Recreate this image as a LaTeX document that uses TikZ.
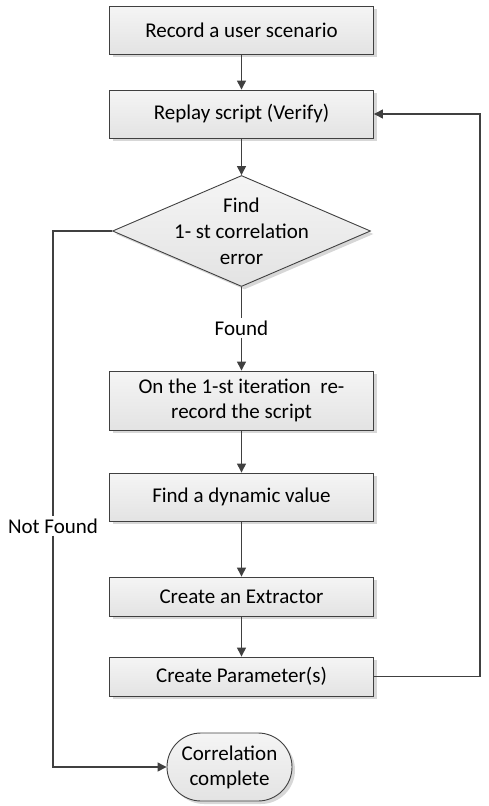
\documentclass[tikz,border=0pt]{standalone}
\usepackage{fontspec}
\setmainfont{Carlito}
\usetikzlibrary{shapes.geometric,shapes.misc,arrows.meta,shadows}
\definecolor{linec}{HTML}{404040}
\begin{document}
\begin{tikzpicture}[x=1pt,y=-1pt,
  font=\fontsize{21}{25}\selectfont,
  boxbase/.style={draw=linec,line width=0.9pt,top color=white!96!black,bottom color=black!11,
    drop shadow={shadow xshift=3pt,shadow yshift=-3pt,opacity=0.35,fill=black!45}},
  procbox/.style={boxbase,rectangle,minimum width=264pt,minimum height=48pt,inner sep=2pt,align=center},
  decbox/.style={boxbase,diamond,minimum width=258pt,minimum height=111pt,inner sep=0pt},
  termbox/.style={boxbase,rounded rectangle,minimum width=127pt,minimum height=68pt,inner sep=1pt,align=center},
  lbl/.style={inner sep=2pt,align=center},
  conn/.style={draw=linec,line width=1.3pt},
  arr/.style={conn,-{Triangle[width=9pt,length=9pt]}}]
\useasboundingbox (0,0) rectangle (488,806);
\node[procbox] (b1) at (241.5,30) {Record a user scenario};
\node[procbox] (b2) at (241.5,114) {Replay script (Verify)};
\node[decbox,label={[align=center,font=\fontsize{21}{26}\selectfont]center:Find\\1- st correlation\\error}] (d) at (241.5,231) {};
\node[lbl] (found) at (241.5,328) {Found};
\node[procbox,minimum height=59pt] (b3) at (241.5,400.5) {On the 1-st iteration~~re-\\record the script};
\node[procbox] (b4) at (241.5,497) {Find a dynamic value};
\node[procbox,minimum height=39pt] (b5) at (241.5,596.5) {Create an Extractor};
\node[procbox,minimum height=39pt] (b6) at (241.5,676.5) {Create Parameter(s)};
\node[termbox] (t) at (229.5,767) {Correlation\\complete};
\node[lbl] (nf) at (53,526) {Not Found};
\coordinate (r) at (480,676.5);
\draw[arr] (b1) -- (b2);
\draw[arr] (b2) -- (d);
\draw[conn] (d.south) -- (found.north);
\draw[arr] (found) -- (b3);
\draw[arr] (b3) -- (b4);
\draw[arr] (b4) -- (b5);
\draw[arr] (b5) -- (b6);
\draw[arr] (b6.east) -- (r) |- (b2.east);
\draw[conn] (d.west) -| (nf.north);
\draw[arr] (nf.south) |- (t.west);
\end{tikzpicture}
\end{document}
